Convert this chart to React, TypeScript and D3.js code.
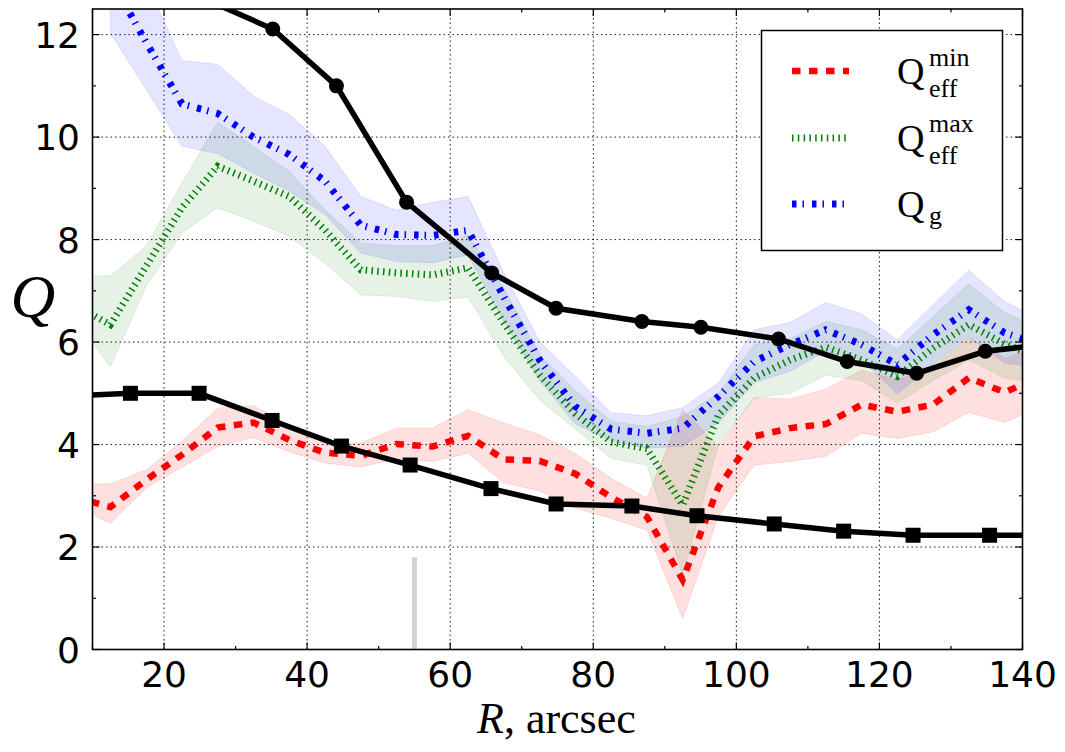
import React from 'react';
import * as d3 from 'd3';

// radius grid of the Q profiles (arcsec)
const radius = [7.5, 12.5, 17.5, 22.5, 27.5, 32.5, 37.5, 42.5, 47.5, 52.5, 57.5, 62.5, 67.5, 72.5,
  77.5, 82.5, 87.5, 92.5, 97.5, 102.5, 107.5, 112.5, 117.5, 122.5, 127.5, 132.5, 137.5, 142.5];

// Q_eff^min
const qMin = [2.98, 2.78, 3.31, 3.8, 4.33, 4.43, 4.09, 3.84, 3.78, 4.01, 3.96, 4.17, 3.71, 3.68,
  3.43, 2.97, 2.59, 1.36, 3.17, 4.16, 4.32, 4.4, 4.78, 4.64, 4.78, 5.3, 5.02, 5.32];
const qMinHi = [3.23, 3.23, 3.51, 4.06, 4.71, 4.76, 4.35, 4.03, 4.03, 4.32, 4.32, 4.68, 4.42, 4.19,
  3.82, 3.34, 2.95, 4.68, 3.96, 4.91, 4.89, 5.08, 5.45, 5.26, 5.52, 6.08, 5.69, 5.9];
const qMinLo = [2.8, 2.46, 3.15, 3.56, 3.96, 4.14, 3.86, 3.64, 3.56, 3.73, 3.67, 3.83, 3.25, 3.1,
  2.76, 2.56, 2.33, 0.61, 2.6, 3.6, 3.67, 3.77, 4.22, 4.12, 4.25, 4.63, 4.43, 4.75];

// Q_eff^max
const qMax = [6.72, 6.34, 7.48, 8.62, 9.43, 9.14, 8.84, 8.19, 7.41, 7.35, 7.31, 7.45, 6.37, 5.36,
  4.6, 4.05, 3.92, 2.82, 4.58, 5.3, 5.65, 5.9, 5.65, 5.33, 5.88, 6.34, 5.96, 5.7];
const qMaxHi = [7.29, 7.29, 7.87, 9.1, 10.29, 9.82, 9.33, 8.58, 7.93, 7.88, 7.88, 8.08, 7.05, 5.75,
  5.05, 4.45, 4.35, 4.55, 5.0, 5.95, 6.06, 6.4, 6.24, 5.86, 6.5, 7.14, 6.57, 6.3];
const qMaxLo = [6.44, 5.52, 7.09, 8.13, 8.62, 8.36, 8.06, 7.54, 6.92, 6.89, 6.79, 6.88, 5.72, 4.87,
  4.3, 3.73, 3.6, 1.46, 4.0, 4.91, 5.0, 5.35, 5.25, 4.81, 5.25, 5.65, 5.3, 5.2];

// Q_g (no value at the first radius)
const qGas = [null, 13.1, 11.85, 10.65, 10.46, 10.0, 9.66, 9.14, 8.28, 8.1, 8.08, 8.18, 6.88, 5.65,
  4.74, 4.3, 4.22, 4.32, 4.94, 5.62, 5.95, 6.24, 5.95, 5.56, 6.14, 6.63, 6.18, 5.95];
const qGasHi = [null, 15.0, 13.04, 11.49, 11.42, 10.8, 10.44, 9.82, 8.84, 8.57, 8.73, 8.84, 7.35, 6.01,
  5.33, 4.62, 4.56, 4.72, 5.2, 6.24, 6.38, 6.77, 6.55, 6.04, 6.73, 7.4, 6.79, 6.45];
const qGasLo = [null, 12.03, 10.93, 9.82, 9.68, 9.3, 8.95, 8.49, 7.74, 7.57, 7.55, 7.7, 6.4, 5.25,
  4.4, 4.07, 3.93, 3.97, 4.42, 5.21, 5.43, 5.82, 5.65, 4.99, 5.56, 6.1, 5.59, 5.5];

// black curve with circles
const circleR = [25.3, 35.2, 44.1, 53.9, 65.8, 74.8, 86.8, 95.05, 105.9, 115.5, 125.2, 134.8, 145];
const circleQ = [12.72, 12.11, 11.0, 8.73, 7.35, 6.66, 6.4, 6.29, 6.06, 5.62, 5.39, 5.82, 5.98];

// black curve with squares
const squareR = [5, 15.3, 24.9, 35.1, 44.8, 54.4, 65.7, 74.8, 85.4, 94.5, 105.3, 115, 124.7, 135.4, 145];
const squareQ = [4.94, 5.0, 5.0, 4.47, 3.97, 3.6, 3.14, 2.84, 2.8, 2.61, 2.45, 2.31, 2.23, 2.23, 2.23];

// grey marker bar
const barR = 55;
const barTop = 1.8;

const xTicks = [20, 40, 60, 80, 100, 120, 140];
const xMinor = [10, 30, 50, 70, 90, 110, 130];
const yTicks = [0, 2, 4, 6, 8, 10, 12];
const yMinor = [1, 3, 5, 7, 9, 11];

const serif = '"Liberation Serif", "Times New Roman", serif';
const sans = '"DejaVu Sans", sans-serif';

export default function App() {
  const x = d3.scaleLinear().domain([10, 140]).range([92.5, 1022.5]);
  const y = d3.scaleLinear().domain([0, 12.5]).range([649.5, 9]);
  const [x0, x1] = x.range();
  const [y0, y1] = y.range();
  const idx = d3.range(radius.length);

  const area = (lo: (number | null)[], hi: (number | null)[]) =>
    d3.area<number>()
      .defined((i) => lo[i] != null && hi[i] != null)
      .x((i) => x(radius[i]))
      .y0((i) => y(lo[i] as number))
      .y1((i) => y(hi[i] as number))(idx) || '';

  const line = (vals: (number | null)[]) =>
    d3.line<number>()
      .defined((i) => vals[i] != null)
      .x((i) => x(radius[i]))
      .y((i) => y(vals[i] as number))(idx) || '';

  const blackLine = (rs: number[], qs: number[]) =>
    d3.line<number>().x((i) => x(rs[i])).y((i) => y(qs[i]))(d3.range(rs.length)) || '';

  const series = [
    { key: 'min', color: '#ff0000', lo: qMinLo, hi: qMinHi, v: qMin, width: 6.5, dash: '8.5 8.5', alpha: 0.12 },
    { key: 'max', color: '#008000', lo: qMaxLo, hi: qMaxHi, v: qMax, width: 7, dash: '1.5 4.3', alpha: 0.1 },
    { key: 'g', color: '#0000ff', lo: qGasLo, hi: qGasHi, v: qGas, width: 7, dash: '4.5 6 1.5 8', alpha: 0.1 },
  ];

  const legendY = [71, 138, 204];

  return (
    <div style={{ position: 'absolute', left: 0, top: 0 }}>
      <svg width={1065} height={752} style={{ display: 'block', background: '#fff' }}>
        <defs>
          <clipPath id="plot">
            <rect x={x0} y={y1} width={x1 - x0} height={y0 - y1} />
          </clipPath>
        </defs>

        {/* grid */}
        <g stroke="#000" strokeWidth={0.9} strokeDasharray="1.5 3">
          {xTicks.map((t) => (
            <line key={'gx' + t} x1={x(t)} x2={x(t)} y1={y0} y2={y1} />
          ))}
          {yTicks.map((t) => (
            <line key={'gy' + t} x1={x0} x2={x1} y1={y(t)} y2={y(t)} />
          ))}
        </g>

        <g clipPath="url(#plot)">
          {/* grey marker */}
          <line x1={x(barR)} x2={x(barR)} y1={y(0)} y2={y(barTop)} stroke="#d3d3d3" strokeWidth={5} />

          {series.map((s) => (
            <path key={'a' + s.key} d={area(s.lo, s.hi)} fill={s.color} fillOpacity={s.alpha}
              stroke={s.color} strokeOpacity={s.alpha} strokeWidth={1} />
          ))}
          {series.map((s) => (
            <path key={'l' + s.key} d={line(s.v)} fill="none" stroke={s.color}
              strokeWidth={s.width} strokeDasharray={s.dash} />
          ))}

          <path d={blackLine(circleR, circleQ)} fill="none" stroke="#000" strokeWidth={5.5} />
          {circleR.map((r, i) => (
            <circle key={'c' + i} cx={x(r)} cy={y(circleQ[i])} r={7.5} fill="#000" />
          ))}
          <path d={blackLine(squareR, squareQ)} fill="none" stroke="#000" strokeWidth={5.5} />
          {squareR.map((r, i) => (
            <rect key={'s' + i} x={x(r) - 7.5} y={y(squareQ[i]) - 7.5} width={15} height={15} fill="#000" />
          ))}
        </g>

        {/* ticks */}
        <g stroke="#000" strokeWidth={1.2}>
          {xTicks.map((t) => (
            <g key={'tx' + t}>
              <line x1={x(t)} x2={x(t)} y1={y0} y2={y0 - 7} />
              <line x1={x(t)} x2={x(t)} y1={y1} y2={y1 + 7} />
            </g>
          ))}
          {xMinor.map((t) => (
            <g key={'mx' + t}>
              <line x1={x(t)} x2={x(t)} y1={y0} y2={y0 - 3.5} />
              <line x1={x(t)} x2={x(t)} y1={y1} y2={y1 + 3.5} />
            </g>
          ))}
          {yTicks.map((t) => (
            <g key={'ty' + t}>
              <line x1={x0} x2={x0 + 7} y1={y(t)} y2={y(t)} />
              <line x1={x1} x2={x1 - 7} y1={y(t)} y2={y(t)} />
            </g>
          ))}
          {yMinor.map((t) => (
            <g key={'my' + t}>
              <line x1={x0} x2={x0 + 3.5} y1={y(t)} y2={y(t)} />
              <line x1={x1} x2={x1 - 3.5} y1={y(t)} y2={y(t)} />
            </g>
          ))}
        </g>

        <rect x={x0} y={y1} width={x1 - x0} height={y0 - y1} fill="none" stroke="#000" strokeWidth={1.6} />

        {/* tick labels */}
        <g fontFamily={sans} fontSize={36} fill="#000">
          {xTicks.map((t) => (
            <text key={'lx' + t} x={x(t)} y={687} textAnchor="middle">{t}</text>
          ))}
          {yTicks.map((t) => (
            <text key={'ly' + t} x={80} y={y(t) + 13} textAnchor="end">{t}</text>
          ))}
        </g>

        {/* axis titles */}
        <text x={33} y={317} textAnchor="middle" fontFamily={serif} fontStyle="italic" fontSize={62}>Q</text>
        <text x={477} y={733} fontFamily={serif} fontSize={44}>
          <tspan fontStyle="italic">R</tspan>, arcsec
        </text>

        {/* legend */}
        <rect x={761.5} y={30.5} width={241} height={220} fill="#fff" stroke="#000" strokeWidth={1.5} />
        {series.map((s, i) => (
          <line key={'lg' + s.key} x1={792} x2={849} y1={legendY[i]} y2={legendY[i]} stroke={s.color}
            strokeWidth={s.width} strokeDasharray={s.dash} />
        ))}
        <g fontFamily={serif} fill="#000">
          <text x={897} y={84} fontSize={38}>Q</text>
          <text x={929} y={66} fontSize={26}>min</text>
          <text x={929} y={97} fontSize={26}>eff</text>
          <text x={897} y={151} fontSize={38}>Q</text>
          <text x={929} y={132} fontSize={26}>max</text>
          <text x={929} y={164} fontSize={26}>eff</text>
          <text x={897} y={217} fontSize={38}>Q</text>
          <text x={929} y={224} fontSize={26}>g</text>
        </g>
      </svg>
    </div>
  );
}
